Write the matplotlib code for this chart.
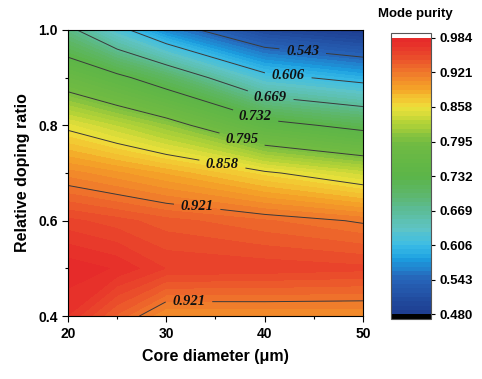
import numpy as np
from matplotlib import pyplot as plt
from matplotlib.colors import LinearSegmentedColormap

# core diameter (um) and relative doping ratio grid
core_d = [20, 25, 30, 40, 50]
doping = [0.4, 0.5, 0.6, 0.7, 0.8, 0.9, 1.0]

# mode purity, one row per doping ratio (bottom to top), columns follow core_d
purity = [
    [0.968, 0.935, 0.904, 0.905, 0.905],
    [0.982, 0.975, 0.960, 0.958, 0.955],
    [0.955, 0.948, 0.940, 0.930, 0.919],
    [0.909, 0.899, 0.888, 0.862, 0.838],
    [0.852, 0.833, 0.811, 0.747, 0.719],
    [0.771, 0.742, 0.707, 0.618, 0.592],
    [0.680, 0.620, 0.565, 0.500, 0.478],
]

line_levels = [0.543, 0.606, 0.669, 0.732, 0.795, 0.858, 0.921]
cbar_ticks = [0.480, 0.543, 0.606, 0.669, 0.732, 0.795, 0.858, 0.921, 0.984]
label_pos = [(43.9, 0.961), (42.4, 0.904), (40.6, 0.864), (39.1, 0.820),
             (37.8, 0.778), (35.8, 0.730), (33.2, 0.640), (32.3, 0.431)]

stops = [(0.480, "#1d3c8e"), (0.543, "#2763b8"), (0.580, "#1b9fe0"),
         (0.606, "#3cbde6"), (0.635, "#5ec4c6"), (0.669, "#5cbc98"),
         (0.700, "#5db66a"), (0.732, "#5bb548"), (0.795, "#72bb42"),
         (0.830, "#b5d337"), (0.858, "#efe23b"), (0.890, "#f5a828"),
         (0.921, "#f07a2b"), (0.950, "#ea4d2b"), (0.984, "#e6262a")]


def main():
    plt.rcParams['font.family'] = ['Liberation Sans', 'DejaVu Sans']
    plt.rcParams['font.weight'] = 'bold'

    lo, hi = stops[0][0], stops[-1][0]
    cmap = LinearSegmentedColormap.from_list(
        "purity", [((v - lo) / (hi - lo), c) for v, c in stops])
    cmap.set_under("black")
    cmap.set_over("white")

    X, Y = np.meshgrid(core_d, doping)
    Z = np.array(purity)

    fig = plt.figure(figsize=(4.82, 3.79), dpi=100)
    ax = fig.add_axes([0.141, 0.166, 0.612, 0.755])
    levels = np.linspace(0.480, 0.984, 65)
    cf = ax.contourf(X, Y, Z, levels=levels, cmap=cmap, extend='both')
    cs = ax.contour(X, Y, Z, levels=line_levels, colors='#3a3a3a', linewidths=0.7)
    labels = ax.clabel(cs, fmt='%.3f', manual=label_pos, inline=True, fontsize=10.5)
    for t in labels:
        t.set_rotation(0)
        t.set_family('Liberation Serif')
        t.set_style('italic')
        t.set_weight('bold')
        t.set_color('#111111')

    ax.set_xlim(20, 50)
    ax.set_ylim(0.4, 1.0)
    ax.set_xticks([20, 30, 40, 50])
    ax.set_xticks([25, 35, 45], minor=True)
    ax.set_yticks([0.4, 0.6, 0.8, 1.0])
    ax.set_yticks([0.5, 0.7, 0.9], minor=True)
    ax.tick_params(labelsize=10, length=4, width=0.8)
    ax.tick_params(which='minor', length=2.5, width=0.8)
    ax.set_xlabel("Core diameter (μm)", fontsize=11.5, fontweight='bold', labelpad=6)
    ax.set_ylabel("Relative doping ratio", fontsize=11.5, fontweight='bold', labelpad=6)

    cax = fig.add_axes([0.811, 0.158, 0.083, 0.755])
    cb = fig.colorbar(cf, cax=cax, ticks=cbar_ticks, extendrect=True, extendfrac=0.018)
    cb.ax.set_yticklabels(["%.3f" % v for v in cbar_ticks])
    cb.ax.tick_params(labelsize=9.5, length=3, width=0.8)
    cb.outline.set_edgecolor('#555555')
    cb.outline.set_linewidth(0.8)
    fig.text(0.862, 0.962, "Mode purity", ha='center', va='center',
             fontsize=9.5, fontweight='bold')

    fig.savefig("out.png", dpi=100)


if __name__ == "__main__":
    main()
